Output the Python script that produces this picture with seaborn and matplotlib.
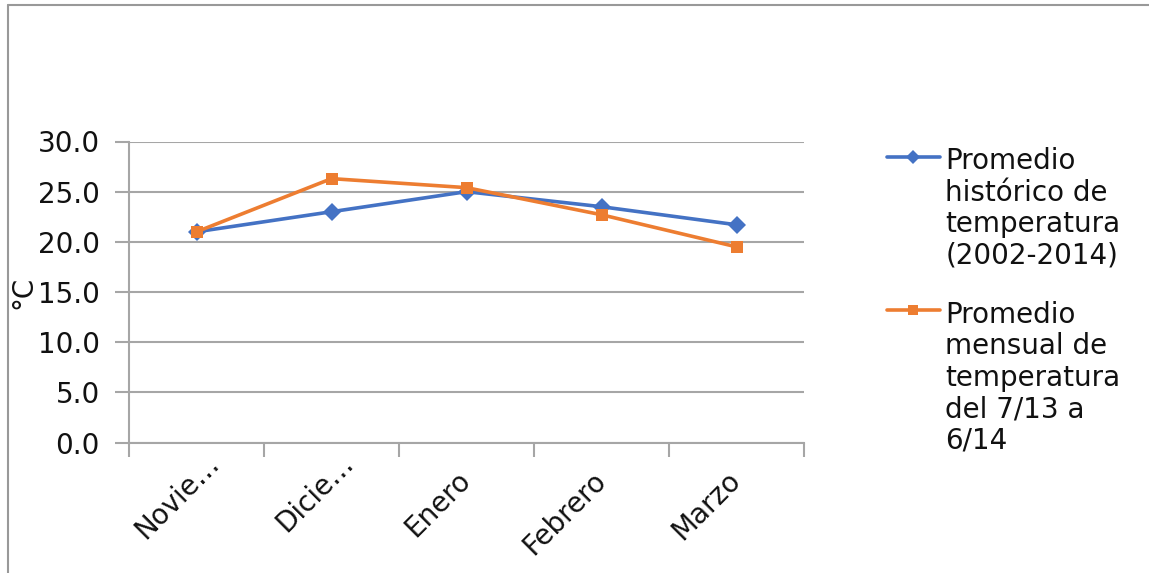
import matplotlib
matplotlib.use("Agg")
import matplotlib.pyplot as plt
from matplotlib.lines import Line2D
from matplotlib.transforms import ScaledTranslation
import seaborn as sns
import pandas as pd

# Monthly temperatures (°C)
meses = ["Novie…", "Dicie…", "Enero", "Febrero", "Marzo"]
historico = [21.0, 23.0, 25.0, 23.5, 21.7]
mensual = [21.0, 26.3, 25.4, 22.7, 19.5]
series = [
    "Promedio\nhistórico de\ntemperatura\n(2002-2014)",
    "Promedio\nmensual de\ntemperatura\ndel 7/13 a\n6/14",
]
colores = ["#4472C4", "#ED7D31"]
yticks = [0, 5, 10, 15, 20, 25, 30]

df = pd.DataFrame({
    "mes": meses * 2,
    "temp": historico + mensual,
    "serie": [series[0]] * len(meses) + [series[1]] * len(meses),
})

sns.set_theme(style="white")
plt.rcParams["font.family"] = ["DejaVu Sans"]

grid_gray = "#a6a6a6"
text_color = "#111111"
fs = 20

fig = plt.figure(figsize=(11.49, 5.73), dpi=100)
ax = fig.add_axes([129 / 1149, 1 - 442.5 / 573, (804 - 129) / 1149, (442.5 - 141.5) / 573])

sns.lineplot(
    data=df, x="mes", y="temp", hue="serie", style="serie",
    palette=colores, markers=["D", "s"], dashes=False, sort=False,
    linewidth=2.6, markersize=9, markeredgewidth=0, ax=ax,
)

# axes styling
ax.set_xlim(-0.5, len(meses) - 0.5)
ax.set_ylim(0, 30)
ax.set_yticks(yticks)
ax.set_yticklabels([f"{v:.1f}" for v in yticks], fontsize=fs, color=text_color)
ax.set_xticks(range(len(meses)))
ax.set_xticklabels(meses, fontsize=fs, color=text_color, rotation=45,
                   ha="right", va="center", rotation_mode="anchor")
ax.set_xticks([i - 0.5 for i in range(len(meses) + 1)], minor=True)
ax.tick_params(axis="x", which="major", length=0, pad=24)
ax.tick_params(axis="x", which="minor", length=10, width=1.5, color=grid_gray, direction="out", bottom=True)
ax.tick_params(axis="y", length=10, width=1.5, color=grid_gray, direction="out", pad=11, left=True)
ax.set_xlabel("")
ax.set_ylabel("°C", fontsize=fs, color=text_color)
ax.yaxis.set_label_coords(-0.135, 0.5)

ax.grid(axis="y", color=grid_gray, linewidth=1.5)
ax.grid(axis="x", visible=False)
for side in ["top", "right"]:
    ax.spines[side].set_visible(False)
for side in ["left", "bottom"]:
    ax.spines[side].set_color(grid_gray)
    ax.spines[side].set_linewidth(1.5)

# truncated month names: let the ellipsis hang past the anchor
for lbl in ax.get_xticklabels():
    if lbl.get_text().endswith("…"):
        lbl.set_transform(lbl.get_transform() + ScaledTranslation(13 / 72, 12 / 72, fig.dpi_scale_trans))

# legend on the right
ax.get_legend().remove()
leg = fig.legend(
    handles=ax.lines[:2], labels=series, loc="upper left",
    bbox_to_anchor=(887 / 1149, 1 - 147 / 573), frameon=False,
    fontsize=fs, handlelength=1.9, handletextpad=0.2, labelspacing=1.12,
    borderpad=0, borderaxespad=0, markerscale=0.75,
)
for t in leg.get_texts():
    t.set_linespacing(1.16)
    t.set_color(text_color)
for col in leg._legend_handle_box.get_children():
    for item in col.get_children():
        item.align = "top"

# chart frame
fig.add_artist(Line2D([8 / 1149, 1], [1 - 5 / 573] * 2, transform=fig.transFigure, color="#999999", linewidth=1.5))
fig.add_artist(Line2D([8 / 1149] * 2, [0, 1 - 5 / 573], transform=fig.transFigure, color="#999999", linewidth=1.5))

fig.savefig("out.png", dpi=100)
